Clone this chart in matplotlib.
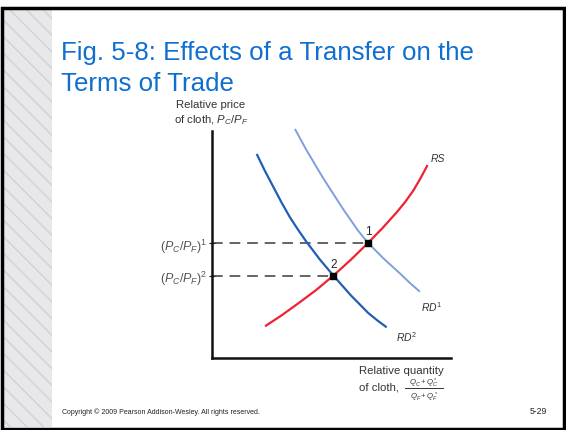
import matplotlib
matplotlib.use("Agg")
import matplotlib.pyplot as plt
from matplotlib.patches import Rectangle
from matplotlib.lines import Line2D

plt.rcParams['font.family'] = ['Liberation Sans', 'DejaVu Sans']
plt.rcParams['mathtext.fontset'] = 'custom'
plt.rcParams['mathtext.rm'] = 'Liberation Sans'
plt.rcParams['mathtext.it'] = 'Liberation Sans:italic'
plt.rcParams['mathtext.bf'] = 'Liberation Sans:bold'

# ---- data (arbitrary units) ----
rs_x = [2.22, 2.90, 3.60, 4.34, 5.08, 5.80, 6.53, 7.13, 7.73, 8.08, 8.42, 8.72, 9.02]
rs_y = [1.40, 1.87, 2.40, 2.98, 3.63, 4.32, 5.07, 5.72, 6.42, 6.87, 7.37, 7.91, 8.50]

rd1_x = [3.47, 3.925, 4.38, 4.66, 4.94, 5.53, 6.12, 6.325, 6.53, 7.20, 7.87, 8.285, 8.70]
rd1_y = [10.09, 9.21, 8.40, 7.91, 7.45, 6.49, 5.60, 5.33, 5.07, 4.36, 3.72, 3.30, 2.92]

rd2_x = [1.87, 2.215, 2.56, 2.91, 3.26, 3.595, 3.93, 4.505, 5.08, 5.81, 6.54, 6.925, 7.31]
rd2_y = [8.99, 8.24, 7.55, 6.85, 6.20, 5.66, 5.15, 4.35, 3.63, 2.76, 1.98, 1.65, 1.35]

eq_x = [6.53, 5.08]
eq_y = [5.07, 3.63]
eq_names = ["1", "2"]
price_labels = [r"$(P_C/P_F)^1$", r"$(P_C/P_F)^2$"]

title = "Fig. 5-8: Effects of a Transfer on the\nTerms of Trade"

W, H = 566, 431
def fx(px): return px / W
def fy(py): return 1 - py / H

fig = plt.figure(figsize=(W / 100, H / 100), dpi=100)
fig.patch.set_facecolor('white')

# slide frame and marble strip
fig.add_artist(Rectangle((fx(3), fy(428)), fx(52) - fx(3), fy(10) - fy(428),
                         transform=fig.transFigure, facecolor='#e8e8eb',
                         edgecolor='#d0d1d7', hatch='\\\\', linewidth=0))
fig.add_artist(Rectangle((fx(1.5), fy(429.5)), fx(564) - fx(1.5), fy(9) - fy(429.5),
                         transform=fig.transFigure, fill=False,
                         edgecolor='black', linewidth=2.5))

fig.text(fx(61), fy(41), title, color='#0f6fd0', fontsize=18.6,
         ha='left', va='top', linespacing=1.38)

ax = fig.add_axes([fx(212), fy(359), fx(451) - fx(212), fy(132) - fy(359)])
ax.set_xlim(0, 10)
ax.set_ylim(0, 10)
for s in ['top', 'right']:
    ax.spines[s].set_visible(False)
for s in ['left', 'bottom']:
    ax.spines[s].set_linewidth(1.8)
    ax.spines[s].set_color('#111111')
ax.set_xticks([])
ax.set_yticks(eq_y)
ax.set_yticklabels(price_labels, fontsize=9)
ax.tick_params(axis='y', length=4, width=0.9, direction='inout', pad=1, colors='#222222')
for lbl in ax.get_yticklabels():
    lbl.set_color('#555555')

# dashed price lines
for x, y in zip(eq_x, eq_y):
    ax.plot([0, x], [y, y], color='#3a3a3a', lw=1.1, dashes=(7, 4.5), clip_on=False)

kw = dict(clip_on=False, solid_capstyle='butt', solid_joinstyle='round')
ax.plot(rd1_x, rd1_y, color='#7f9fda', lw=1.4, **kw)
ax.plot(rd2_x, rd2_y, color='#1f5fb5', lw=1.6, **kw)
ax.plot(rs_x, rs_y, color='#ee2233', lw=1.6, **kw)

ax.plot(eq_x, eq_y, 's', color='black', ms=4.5, zorder=5, clip_on=False)
for x, y, n in zip(eq_x, eq_y, eq_names):
    ax.text(x, y + 0.25, n, fontsize=8.5, ha='center', va='bottom', color='#222222')

ax.text(rs_x[-1] + 0.45, rs_y[-1] + 0.1, "RS", fontsize=7.5, style='italic',
        color='#333333', ha='center', va='bottom')
ax.text(rd1_x[-1] + 0.05, rd1_y[-1] - 0.35, r"$RD^1$", fontsize=7.5,
        color='#333333', ha='left', va='top')
ax.text(rd2_x[-1] + 0.4, rd2_y[-1] - 0.1, r"$RD^2$", fontsize=7.5,
        color='#333333', ha='left', va='top')

# y-axis title
fig.text(fx(211), fy(108), "Relative price", fontsize=8.2,
         ha='center', va='baseline', color='#333333')
fig.text(fx(211), fy(123), "of cloth, $P_C/P_F$", fontsize=8.2,
         ha='center', va='baseline', color='#333333')

# x-axis title
fig.text(fx(359), fy(374.5), "Relative quantity", fontsize=8.2, ha='left',
         va='baseline', color='#333333')
fig.text(fx(359), fy(391), "of cloth,", fontsize=8.2, ha='left',
         va='baseline', color='#333333')
fig.text(fx(424), fy(386), r"$Q_C + Q^*_C$", fontsize=5.6, ha='center',
         va='baseline', color='#333333')
fig.add_artist(Line2D([fx(405), fx(443)], [fy(389), fy(389)],
                      transform=fig.transFigure, color='#333333', lw=0.7))
fig.text(fx(424), fy(399.5), r"$Q_F + Q^*_F$", fontsize=5.6, ha='center',
         va='baseline', color='#333333')

fig.text(fx(62), fy(412), "Copyright \u00a9 2009 Pearson Addison-Wesley. All rights reserved.",
         fontsize=5.0, ha='left', va='center', color='#222222')
fig.text(fx(547), fy(412), "5-29", fontsize=6.2, ha='right', va='center', color='#222222')

fig.savefig("out.png", dpi=100)
